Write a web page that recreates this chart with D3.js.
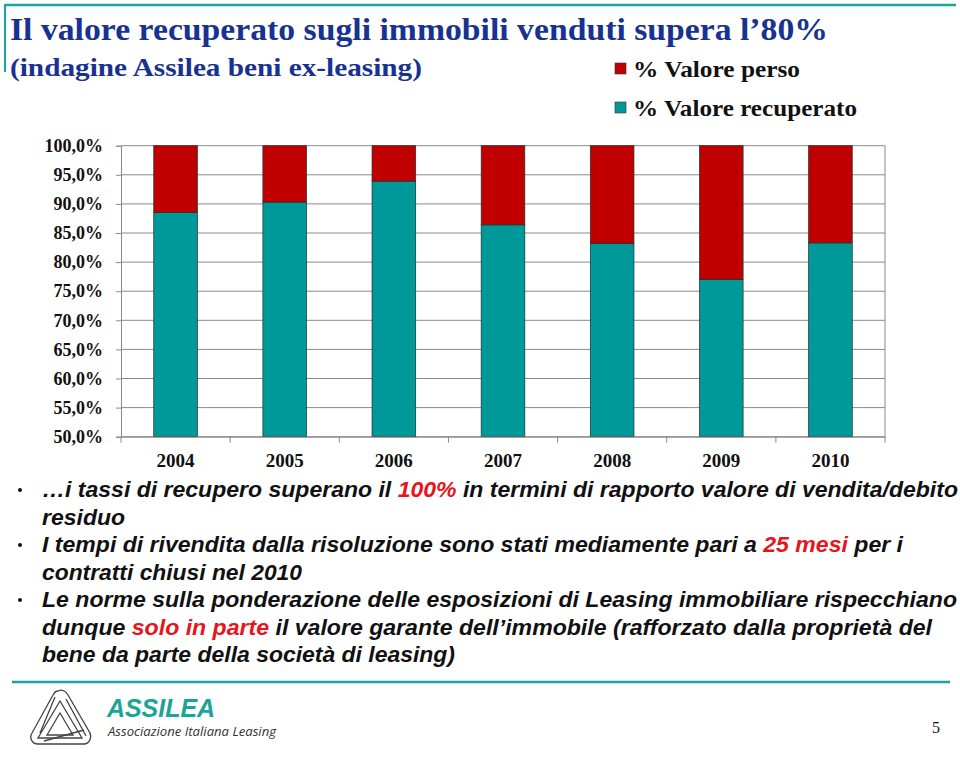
<!DOCTYPE html>
<html>
<head>
<meta charset="utf-8">
<script src="https://cdn.jsdelivr.net/npm/d3@7"></script>
<style>
  body { margin: 0; background: #fff; }
  svg { display: block; }
</style>
</head>
<body>
<script>
//-----------------Data----------------

const years = ["2004", "2005", "2006", "2007", "2008", "2009", "2010"];
const recuperato = [88.5, 90.3, 93.9, 86.4, 83.2, 77.0, 83.3];
const perso = [11.5, 9.7, 6.1, 13.6, 16.8, 23.0, 16.7];
const yTicks = [50, 55, 60, 65, 70, 75, 80, 85, 90, 95, 100];
const seriesNames = ["% Valore perso", "% Valore recuperato"];

const bulletLines = [
  { bullet: true, w: 916, parts: [["…i tassi di recupero superano il ", 0], ["100%", 1], [" in termini di rapporto valore di vendita/debito", 0]] },
  { bullet: false, w: 83, parts: [["residuo", 0]] },
  { bullet: true, w: 861, parts: [["I tempi di rivendita dalla risoluzione sono stati mediamente pari a ", 0], ["25 mesi", 1], [" per i", 0]] },
  { bullet: false, w: 260, parts: [["contratti chiusi nel 2010", 0]] },
  { bullet: true, w: 915, parts: [["Le norme sulla ponderazione delle esposizioni di Leasing immobiliare rispecchiano", 0]] },
  { bullet: false, w: 890, parts: [["dunque ", 0], ["solo in parte", 1], [" il valore garante dell’immobile (rafforzato dalla proprietà del", 0]] },
  { bullet: false, w: 413, parts: [["bene da parte della società di leasing)", 0]] }
];

//-----------------Main svg----------------

const width = 960;
const height = 760;
const teal = "#1aa59f";
const persoColor = "#c00000";
const recColor = "#009999";
const serif = "'Liberation Serif', 'Times New Roman', serif";
const sans = "'Liberation Sans', Arial, sans-serif";

const svg = d3.select("body").append("svg").attr("width", width).attr("height", height);

// frame lines
svg.append("line").attr("x1", 5).attr("x2", 956).attr("y1", 5).attr("y2", 5)
  .style("stroke", teal).style("stroke-width", 2.5);
svg.append("line").attr("x1", 5).attr("x2", 5).attr("y1", 4).attr("y2", 72)
  .style("stroke", teal).style("stroke-width", 2);

//-----------------Header----------------

svg.append("text")
  .attr("x", 10).attr("y", 40)
  .attr("textLength", 818).attr("lengthAdjust", "spacingAndGlyphs")
  .style("font-family", serif).style("font-weight", "bold")
  .style("font-size", "31px").style("fill", "#173290")
  .text("Il valore recuperato sugli immobili venduti supera l’80%");

svg.append("text")
  .attr("x", 10).attr("y", 76)
  .attr("textLength", 412).attr("lengthAdjust", "spacingAndGlyphs")
  .style("font-family", serif).style("font-weight", "bold")
  .style("font-size", "25px").style("fill", "#173290")
  .text("(indagine Assilea beni ex-leasing)");

//-----------------Legend----------------

const legendWidths = [167, 224];
const legend = svg.append("g").attr("id", "legend");
[persoColor, recColor].forEach((c, i) => {
  legend.append("rect")
    .attr("x", 615).attr("y", 63 + i * 39).attr("width", 11).attr("height", 11)
    .style("fill", c).style("stroke", "#333").style("stroke-width", 0.6);
  legend.append("text")
    .attr("x", 633).attr("y", 77 + i * 39)
    .attr("textLength", legendWidths[i]).attr("lengthAdjust", "spacingAndGlyphs")
    .style("font-family", serif).style("font-weight", "bold")
    .style("font-size", "24px").style("fill", "#111")
    .text(seriesNames[i]);
});

//-----------------Scales----------------

const xScale = d3.scaleBand().domain(years).range([121, 885]).paddingInner(0.6).paddingOuter(0.3);
const yScale = d3.scaleLinear().domain([50, 100]).range([436.7, 145.7]);

// grid
svg.append("g")
  .selectAll("line")
  .data(yTicks)
  .enter()
  .append("line")
  .attr("x1", 121).attr("x2", 885)
  .attr("y1", (d) => yScale(d)).attr("y2", (d) => yScale(d))
  .style("stroke", "#8a8a8a").style("stroke-width", 1);

svg.append("line").attr("x1", 885).attr("x2", 885).attr("y1", yScale(100)).attr("y2", yScale(50))
  .style("stroke", "#8a8a8a");

//-----------------Bars----------------

const table = years.map((y, i) => ({ year: y, rec: recuperato[i], perso: perso[i] }));
const stack = d3.stack().keys(["rec", "perso"])(table);
const colors = { rec: recColor, perso: persoColor };

svg.append("g")
  .selectAll("g")
  .data(stack)
  .enter()
  .append("g")
  .style("fill", (s) => colors[s.key])
  .selectAll("rect")
  .data((s) => s)
  .enter()
  .append("rect")
  .attr("x", (d) => xScale(d.data.year))
  .attr("width", xScale.bandwidth())
  .attr("y", (d) => yScale(Math.min(d[1], 100)))
  .attr("height", (d) => yScale(Math.max(d[0], 50)) - yScale(Math.min(d[1], 100)))
  .style("stroke", "#1f2f2f").style("stroke-width", 0.7);

//-----------------Axis----------------

const yAxis = d3.axisLeft(yScale).tickValues(yTicks).tickSize(5).tickPadding(13)
  .tickFormat((d) => d3.format(".1f")(d).replace(".", ",") + "%");

const gy = svg.append("g").attr("transform", "translate(121,0)").call(yAxis);
gy.select(".domain").style("stroke", "#8a8a8a");
gy.selectAll(".tick line").style("stroke", "#8a8a8a");
gy.selectAll("text")
  .style("font-family", serif).style("font-weight", "bold")
  .style("font-size", "18px").style("fill", "#111");

const xAxis = d3.axisBottom(xScale).tickSize(0).tickPadding(17);
const gx = svg.append("g").attr("transform", "translate(0," + yScale(50) + ")").call(xAxis);
gx.select(".domain").style("stroke", "#8a8a8a");
gx.selectAll("text")
  .style("font-family", serif).style("font-weight", "bold")
  .style("font-size", "19px").style("fill", "#111");

// category boundary ticks
const bounds = years.map((y) => xScale(y) - xScale.step() * xScale.paddingOuter()).concat([885]);
svg.append("g")
  .selectAll("line")
  .data(bounds)
  .enter()
  .append("line")
  .attr("x1", (d) => d).attr("x2", (d) => d)
  .attr("y1", yScale(50)).attr("y2", yScale(50) + 6)
  .style("stroke", "#8a8a8a");

//-----------------Bullets----------------

const bullets = svg.append("g")
  .style("font-family", sans)
  .style("font-weight", "bold").style("font-style", "italic").style("font-size", "22px");

bulletLines.forEach((line, i) => {
  const yy = 497 + i * 27.5;
  if (line.bullet) {
    bullets.append("circle").attr("cx", 20).attr("cy", yy - 7).attr("r", 2).style("fill", "#111");
  }
  const t = bullets.append("text").attr("x", 42).attr("y", yy)
    .attr("textLength", line.w).attr("lengthAdjust", "spacingAndGlyphs");
  line.parts.forEach((p) => {
    t.append("tspan").text(p[0]).style("fill", p[1] ? "#e8141b" : "#111");
  });
});

//-----------------Footer----------------

svg.append("line").attr("x1", 12).attr("x2", 950).attr("y1", 682).attr("y2", 682)
  .style("stroke", teal).style("stroke-width", 2.5);

const logo = svg.append("g").style("fill", "none").style("stroke", "#444").style("stroke-width", 1.3);
logo.append("path").attr("d", "M58,691 C62,689 66,691 68,695 L90,733 C92,738 89,744 84,744 L38,744 C32,744 29,738 32,733 L53,695 C54,693 56,691 58,691 Z");
logo.append("path").attr("d", "M60,701 L82,738 L38,738 Z");
logo.append("path").attr("d", "M60,713 L73,735 L47,735 Z");
logo.append("path").attr("d", "M55,697 L40,733 M66,699 L86,736 M44,741 L84,730");

svg.append("text").attr("x", 107).attr("y", 717)
  .attr("textLength", 108).attr("lengthAdjust", "spacingAndGlyphs")
  .style("font-family", sans).style("font-weight", "bold")
  .style("font-style", "italic").style("font-size", "25px").style("fill", "#1aa596")
  .text("ASSILEA");

svg.append("text").attr("x", 108).attr("y", 736)
  .attr("textLength", 168).attr("lengthAdjust", "spacingAndGlyphs")
  .style("font-family", "'Open Sans', sans-serif").style("font-style", "italic")
  .style("font-size", "12px").style("fill", "#333")
  .text("Associazione Italiana Leasing");

svg.append("text").attr("x", 940).attr("y", 733).style("text-anchor", "end")
  .style("font-family", serif).style("font-size", "16px").style("fill", "#111")
  .text("5");
</script>
</body>
</html>
